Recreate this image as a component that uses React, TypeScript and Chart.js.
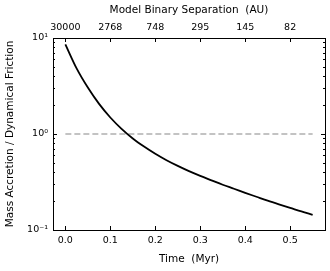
import React, { useEffect, useRef } from "react";
import { Chart, registerables } from "chart.js";

Chart.register(...registerables);

// Time (Myr)
const times = [0, 0.025, 0.05, 0.075, 0.1, 0.125, 0.15, 0.175, 0.2, 0.225, 0.25, 0.275, 0.3, 0.325, 0.35, 0.375, 0.4, 0.425, 0.45, 0.475, 0.5, 0.525, 0.55];
// Mass accretion / dynamical friction ratio
const ratio = [8.59, 4.83, 3.05, 2.06, 1.486, 1.132, 0.899, 0.74, 0.622, 0.533, 0.465, 0.41, 0.366, 0.329, 0.296, 0.269, 0.244, 0.222, 0.202, 0.185, 0.17, 0.156, 0.144];
const refLineX = [0, 0.55];
const refLineY = [1, 1];

const xTicks = [0, 0.1, 0.2, 0.3, 0.4, 0.5];
const xTickLabels = ["0.0", "0.1", "0.2", "0.3", "0.4", "0.5"];
const topTickLabels = ["30000", "2768", "748", "295", "145", "82"];
const yTicks = [0.1, 1, 10];
const yTickLabels = ["10\u207B\u00B9", "10\u2070", "10\u00B9"];
const yMinor = [0.2, 0.3, 0.4, 0.5, 0.6, 0.7, 0.8, 0.9, 2, 3, 4, 5, 6, 7, 8, 9];

const FONT = "'DejaVu Sans', sans-serif";

const framePlugin = {
  id: "frameTicks",
  afterDatasetsDraw(chart: any) {
    const { ctx, chartArea: a, scales } = chart;
    const x = scales.x;
    const y = scales.y;
    ctx.save();
    ctx.strokeStyle = "#000";
    ctx.lineWidth = 1;
    ctx.beginPath();
    const major = 4;
    const minor = 2;
    xTicks.forEach((v) => {
      const px = Math.round(x.getPixelForValue(v)) + 0.5;
      ctx.moveTo(px, a.bottom);
      ctx.lineTo(px, a.bottom - major);
      ctx.moveTo(px, a.top);
      ctx.lineTo(px, a.top + major);
    });
    yTicks.forEach((v) => {
      const py = Math.round(y.getPixelForValue(v)) + 0.5;
      ctx.moveTo(a.left, py);
      ctx.lineTo(a.left + major, py);
      ctx.moveTo(a.right, py);
      ctx.lineTo(a.right - major, py);
    });
    yMinor.forEach((v) => {
      const py = Math.round(y.getPixelForValue(v)) + 0.5;
      ctx.moveTo(a.left, py);
      ctx.lineTo(a.left + minor, py);
      ctx.moveTo(a.right, py);
      ctx.lineTo(a.right - minor, py);
    });
    ctx.stroke();
    ctx.strokeRect(Math.round(a.left) + 0.5, Math.round(a.top) + 0.5, Math.round(a.right - a.left), Math.round(a.bottom - a.top));
    ctx.restore();
  },
};

export default function App() {
  const ref = useRef<HTMLCanvasElement>(null);
  useEffect(() => {
    if (!ref.current) return;
    const chart = new Chart(ref.current, {
      type: "line",
      data: {
        datasets: [
          {
            data: times.map((t, i) => ({ x: t, y: ratio[i] })),
            borderColor: "#000",
            borderWidth: 1.8,
            pointRadius: 0,
            cubicInterpolationMode: "monotone",
            fill: false,
          },
          {
            data: refLineX.map((t, i) => ({ x: t, y: refLineY[i] })),
            borderColor: "#b0b0b0",
            borderWidth: 1.6,
            borderDash: [6, 3],
            pointRadius: 0,
            fill: false,
          },
        ],
      },
      options: {
        animation: false,
        responsive: false,
        layout: { padding: { right: 5, left: 0, top: 0, bottom: 0 } },
        plugins: { legend: { display: false }, tooltip: { enabled: false } },
        scales: {
          x: {
            type: "linear",
            position: "bottom",
            min: -0.0275,
            max: 0.5775,
            grid: { display: false, drawTicks: false },
            border: { display: false },
            afterBuildTicks: (s: any) => {
              s.ticks = xTicks.map((v) => ({ value: v }));
            },
            afterFit: (s: any) => {
              s.height = 41;
            },
            ticks: {
              padding: 5,
              color: "#000",
              font: { family: FONT, size: 9.5 },
              maxRotation: 0,
              autoSkip: false,
              callback: (_v: any, i: number) => xTickLabels[i],
            },
            title: {
              display: true,
              text: "Time  (Myr)",
              color: "#000",
              font: { family: FONT, size: 10.5 },
              padding: { top: 0, bottom: 5 },
            },
          },
          x2: {
            type: "linear",
            position: "top",
            min: -0.0275,
            max: 0.5775,
            grid: { display: false, drawTicks: false },
            border: { display: false },
            afterBuildTicks: (s: any) => {
              s.ticks = xTicks.map((v) => ({ value: v }));
            },
            afterFit: (s: any) => {
              s.height = 38;
            },
            ticks: {
              padding: 5,
              color: "#000",
              font: { family: FONT, size: 9.5 },
              maxRotation: 0,
              autoSkip: false,
              callback: (_v: any, i: number) => topTickLabels[i],
            },
            title: {
              display: true,
              text: "Model Binary Separation  (AU)",
              color: "#000",
              font: { family: FONT, size: 10.5 },
              padding: { top: 4, bottom: 0 },
            },
          },
          y: {
            type: "logarithmic",
            position: "left",
            min: 0.1,
            max: 10,
            grid: { display: false, drawTicks: false },
            border: { display: false },
            afterBuildTicks: (s: any) => {
              s.ticks = yTicks.map((v) => ({ value: v }));
            },
            afterFit: (s: any) => {
              s.width = 53;
            },
            ticks: {
              padding: 5,
              color: "#000",
              font: { family: FONT, size: 9.5 },
              autoSkip: false,
              callback: (_v: any, i: number) => yTickLabels[i],
            },
            title: {
              display: true,
              text: "Mass Accretion / Dynamical Friction",
              color: "#000",
              font: { family: FONT, size: 10.5 },
              padding: { top: 4, bottom: 0 },
            },
          },
        },
      },
      plugins: [framePlugin],
    } as any);
    return () => chart.destroy();
  }, []);
  return (
    <div style={{ position: "absolute", left: 0, top: 0, width: 330, height: 271 }}>
      <canvas ref={ref} width={330} height={271} style={{ width: 330, height: 271 }} />
    </div>
  );
}
